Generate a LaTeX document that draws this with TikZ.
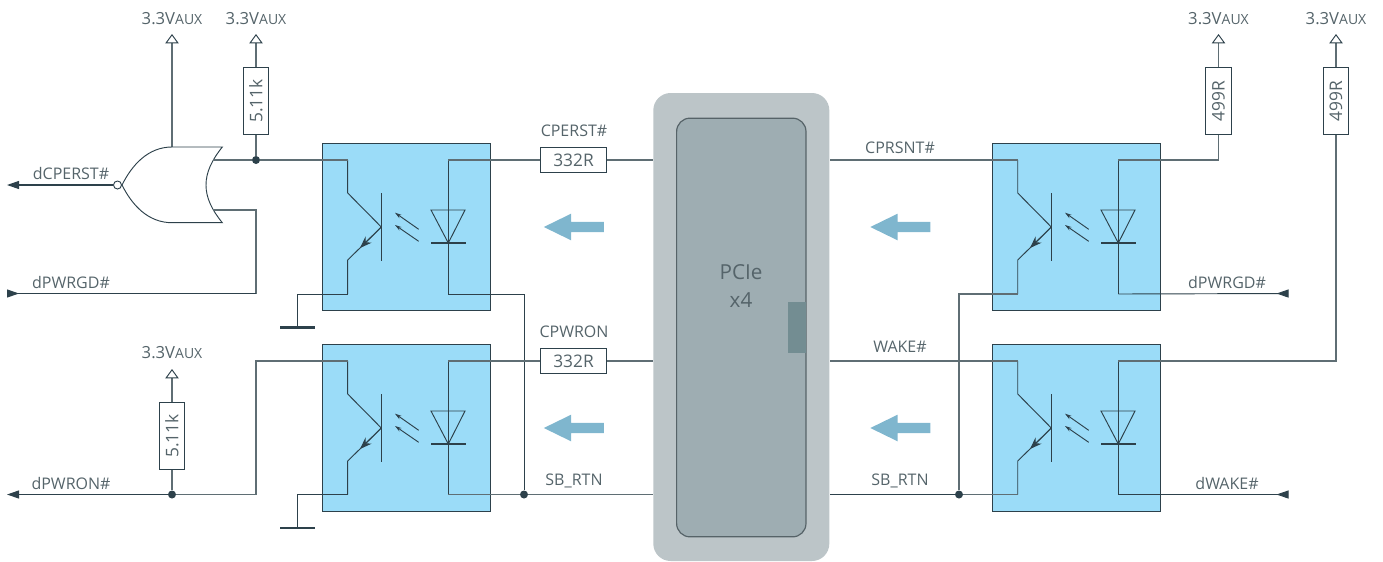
\documentclass[tikz,border=0pt]{standalone}
\usepackage{xcolor}
\usepackage{fontspec}
\setmainfont{Open Sans}
\usetikzlibrary{arrows.meta,shapes}
\definecolor{pcieouter}{RGB}{188,197,200}
\definecolor{pcieinner}{RGB}{158,173,178}
\definecolor{pcietab}{RGB}{115,141,146}
\definecolor{optoblue}{RGB}{155,220,248}
\definecolor{flowblue}{RGB}{127,182,206}
\definecolor{wiregrey}{RGB}{95,110,116}
\definecolor{inkdark}{RGB}{45,65,75}
\definecolor{txtgrey}{RGB}{85,100,106}

\newcommand{\vaux}{\fontsize{12.5}{14}\selectfont 3.3V{\fontsize{10.5}{14}\selectfont AUX}}

\begin{document}
\begin{tikzpicture}[
    x=0.75pt, y=-0.75pt,
    lbl/.style={font=\fontsize{12}{14}\selectfont, text=txtgrey, inner sep=0pt},
    wire/.style={draw=wiregrey, line width=0.9pt},
    thinwire/.style={draw=inkdark, line width=0.7pt},
    optobox/.style={draw=inkdark, line width=0.7pt, fill=optoblue, minimum width=126pt, minimum height=125pt, inner sep=0pt, anchor=north west},
    reshor/.style={draw=inkdark, line width=0.7pt, fill=white, minimum width=50pt, minimum height=19pt, inner sep=0pt, font=\fontsize{13}{15}\selectfont, text=txtgrey},
    resver/.style={reshor, rotate=90},
    jdot/.style={circle, fill=inkdark, minimum size=6pt, inner sep=0pt},
    gndbar/.style={fill=inkdark, minimum width=26pt, minimum height=1.8pt, inner sep=0pt},
    flowarrow/.style={single arrow, shape border rotate=180, fill=flowblue, minimum height=45pt, minimum width=19.5pt, inner sep=3.6pt, single arrow head extend=6.15pt, single arrow tip angle=52},
    pwrtip/.style={-{Triangle[open, fill=white, color=inkdark, line width=0.7pt, length=7pt, width=10pt]}},
    outtip/.style={-{Triangle[length=9pt, width=6pt]}},
    intip/.style={-{Triangle[reversed, length=9pt, width=6pt]}},
    smalltip/.style={-{Stealth[length=5pt, width=3pt]}}
]
\useasboundingbox (0,0) rectangle (1383,561);

% PCIe card
\node[fill=pcieouter, rounded corners=13pt, minimum width=132pt, minimum height=351pt, inner sep=0pt] (pcieo) at (741.3,327) {};
\node[draw=wiregrey!90!black, line width=0.9pt, fill=pcieinner, rounded corners=10pt, minimum width=97pt, minimum height=314pt, inner sep=0pt] (pciei) at (741.3,327.5) {};
\node[fill=pcietab, minimum width=13.3pt, minimum height=38pt, inner sep=0pt] (tab) at (796.8,327.5) {};
\node[lbl, font=\fontsize{15.5}{21}\selectfont, align=center] (pcietxt) at (741,286) {PCIe\\x4};

% optocouplers
\foreach \nm/\bx/\by/\eb in {a/322/143/151, b/322/344/150.5, c/992/143/151, d/992/344/150.5} {
  \node[optobox] (\nm) at (\bx,\by) {};
  \begin{scope}[shift={(\bx,\by)}]
    \coordinate (\nm-ct) at (25.7,17);
    \coordinate (\nm-eb) at (25.7,\eb);
    \coordinate (\nm-at) at (126.3,17);
    \coordinate (\nm-ab) at (126.3,\eb);
    \draw[thinwire] (\nm-ct) -- (25.7,50) -- (59.3,84) -- (25.7,117) -- (\nm-eb);
    \draw[thinwire, line width=0.9pt] (59.3,50) -- (59.3,117.5);
    \draw[thinwire, -{Stealth[length=9pt, width=6.5pt]}] (59.3,84) -- (38,105);
    \draw[thinwire, smalltip] (96.7,86.3) -- (73,69.7);
    \draw[thinwire, smalltip] (96.7,98.3) -- (73,82);
    \draw[thinwire] (\nm-at) -- (\nm-ab);
    \draw[thinwire] (109,67) -- (143,67) -- (126.3,100) -- cycle;
    \draw[thinwire, line width=1.5pt] (109,100) -- (143.5,100);
  \end{scope}
}

% flow arrows
\node[flowarrow] (flowa) at (579,227) {};
\node[flowarrow] (flowb) at (579,428) {};
\node[flowarrow] (flowc) at (905.5,227) {};
\node[flowarrow] (flowd) at (905.5,428) {};

% resistors
\node[reshor] (rcperst) at (573.5,160) {332R};
\node[reshor] (rcpwron) at (573.5,361) {332R};
\node[resver] (rpup) at (256,101) {5.11k};
\node[resver] (rpon) at (172,436) {5.11k};
\node[resver] (rprsnt) at (1218.5,101) {499R};
\node[resver] (rwake) at (1336,101) {499R};

% junctions and ends
\node[jdot] (jcp) at (256,160) {};
\node[jdot] (jon) at (172,494.5) {};
\node[jdot] (jrtnl) at (524,494.5) {};
\node[jdot] (jrtnr) at (959,494.5) {};
\node[gndbar] (gnda) at (297.5,327.5) {};
\node[gndbar] (gndb) at (297.5,528) {};
\coordinate (vgate) at (172,34);
\coordinate (vpup) at (256,34);
\coordinate (vpon) at (172,369);
\coordinate (vprsnt) at (1218.5,34);
\coordinate (vwake) at (1336,34);
\coordinate (gin1) at (213.3,160);
\coordinate (gin2) at (213.3,210);
\coordinate (gtop) at (172,147);
\coordinate (turngd) at (256,293.5);
\coordinate (turnon) at (256,494.5);
\coordinate (endcp) at (7,185);
\coordinate (endgdl) at (7,293.5);
\coordinate (endon) at (7,494.5);
\coordinate (endgdr) at (1288.5,293.5);
\coordinate (endwk) at (1288.5,494.5);

% NOR gate
\node[circle, draw=inkdark, line width=0.7pt, fill=white, minimum size=6pt, inner sep=0pt] (bubble) at (117.5,185) {};
\draw[wire, pwrtip] (gtop) -- (vgate);
\draw[thinwire, fill=white] (gtop) -- (222.3,147) .. controls (212,160) and (206,172) .. (206,185) .. controls (206,198) and (212,210) .. (222.3,222.7) -- (172,222.7) .. controls (148,222.7) and (132,205) .. (122,185) .. controls (132,165) and (148,147) .. (gtop);

% wires left
\draw[wire] (gin1) -- (jcp);
\draw[wire] (jcp) -- (a-ct);
\draw[wire] (rpup.west) -- (jcp);
\draw[wire, pwrtip] (rpup.east) -- (vpup);
\draw[wire] (gin2) -| (turngd);
\draw[thinwire, line width=0.8pt, intip] (turngd) -- (endgdl);
\draw[thinwire, line width=0.8pt, outtip] (bubble) -- (endcp);
\draw[wire] (a-at) -- (rcperst);
\draw[wire] (rcperst) -- (pcieo.west |- rcperst);
\draw[thinwire] (a-ab) -| (jrtnl);
\draw[thinwire] (a-eb) -| (gnda);
\draw[wire] (b-at) -- (rcpwron);
\draw[wire] (rcpwron) -- (pcieo.west |- rcpwron);
\draw[wire] (b-ab) -- (jrtnl);
\draw[wire] (jrtnl) -- (pcieo.west |- jrtnl);
\draw[thinwire] (b-eb) -| (gndb);
\draw[wire] (b-ct) -| (turnon);
\draw[wire] (turnon) -- (jon);
\draw[thinwire, line width=0.8pt, outtip] (jon) -- (endon);
\draw[wire] (rpon.west) -- (jon);
\draw[wire, pwrtip] (rpon.east) -- (vpon);

% wires right
\draw[wire] (c-ct) -- (pcieo.east |- c-ct);
\draw[wire] (c-at) -| (rprsnt.west);
\draw[wire, pwrtip] (rprsnt.east) -- (vprsnt);
\draw[thinwire, intip] (c-ab) -- (endgdr);
\draw[wire] (c-eb) -| (jrtnr);
\draw[wire] (d-ct) -- (pcieo.east |- d-ct);
\draw[wire] (d-at) -| (rwake.west);
\draw[wire, pwrtip] (rwake.east) -- (vwake);
\draw[wire] (d-eb) -- (jrtnr);
\draw[thinwire, line width=0.8pt] (jrtnr) -- (pcieo.east |- jrtnr);
\draw[thinwire, intip] (d-ab) -- (endwk);

% labels
\node[lbl] (lv1) at (172,19) {\vaux};
\node[lbl] (lv2) at (256,19) {\vaux};
\node[lbl] (lv3) at (172,353) {\vaux};
\node[lbl] (lv4) at (1218.5,19) {\vaux};
\node[lbl] (lv5) at (1336,19) {\vaux};
\node[lbl] (ldcp) at (71,173) {dCPERST\#};
\node[lbl] (ldgdl) at (71,282) {dPWRGD\#};
\node[lbl] (ldon) at (71,483) {dPWRON\#};
\node[lbl] (lcp) at (574,131) {CPERST\#};
\node[lbl] (lcw) at (574,332) {CPWRON};
\node[lbl] (lsl) at (574,481) {SB\_RTN};
\node[lbl] (lcs) at (900,148) {CPRSNT\#};
\node[lbl] (lwk) at (900,347) {WAKE\#};
\node[lbl] (lsr) at (900,481) {SB\_RTN};
\node[lbl] (ldgdr) at (1227,282) {dPWRGD\#};
\node[lbl] (ldwk) at (1227,483) {dWAKE\#};
\end{tikzpicture}
\end{document}
